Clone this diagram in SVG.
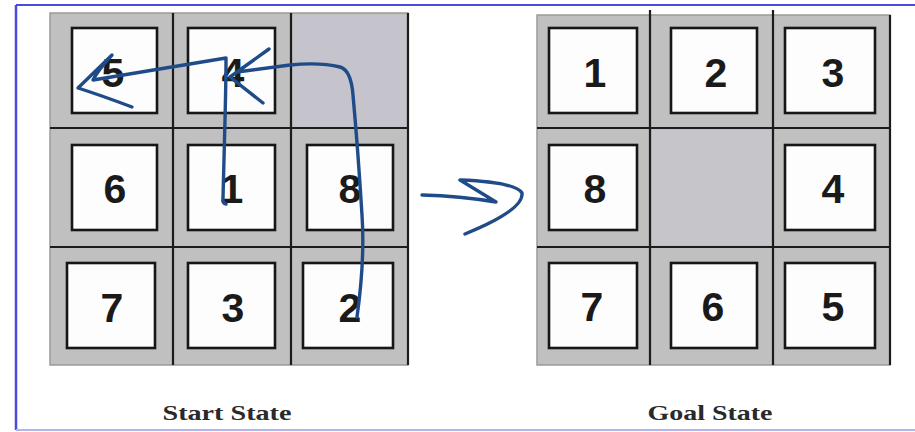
<svg xmlns="http://www.w3.org/2000/svg" width="915" height="432" viewBox="0 0 915 432">
  <style>
    .board { fill: #c0c0c0; stroke: #9a9a9a; stroke-width: 1.5; }
    .edge { stroke: #1c1c1c; stroke-width: 2.2; fill: none; }
    .tile { fill: #fdfdfd; stroke: #161616; stroke-width: 2.6; }
    .num { font-family: "Liberation Sans", Arial, sans-serif; font-weight: bold; font-size: 41px; fill: #1a1a1a; text-anchor: middle; }
    .cap { font-family: "Liberation Serif", "Times New Roman", serif; font-weight: bold; font-size: 21px; fill: #2a2a2a; text-anchor: middle; }
    .ink { fill: none; stroke: #1f4c89; stroke-width: 3.4; stroke-linecap: round; stroke-linejoin: round; }
  </style>

  <!-- page frame -->
  <rect x="0" y="0" width="915" height="432" fill="#ffffff"/>
  <line x1="16" y1="5" x2="915" y2="5" stroke="#4a4ae0" stroke-width="2"/>
  <line x1="16" y1="5" x2="16" y2="430" stroke="#4a4ae0" stroke-width="2.5"/>
  <line x1="16" y1="430" x2="915" y2="430" stroke="#b4b4ec" stroke-width="2"/>

  <!-- start board -->
  <g id="start-board">
    <rect class="board" x="50" y="13" width="358" height="352"/>
    <rect x="293" y="15" width="113" height="112" fill="#c5c4cd"/>
    <path class="edge" d="M173 13V365M291 13V365M50 128H408M50 247H408M408 13V365"/>
  </g>
  <g id="s-5"><rect class="tile" x="72" y="28" width="85" height="85"/><text class="num" x="113" y="87">5</text></g>
  <g id="s-4"><rect class="tile" x="188" y="28" width="87" height="85"/><text class="num" x="233" y="87">4</text></g>
  <g id="s-6"><rect class="tile" x="72" y="145" width="85" height="85"/><text class="num" x="115" y="203">6</text></g>
  <g id="s-1"><rect class="tile" x="188" y="145" width="87" height="85"/><text class="num" x="232" y="203">1</text></g>
  <g id="s-8"><rect class="tile" x="307" y="145" width="86" height="85"/><text class="num" x="350" y="203">8</text></g>
  <g id="s-7"><rect class="tile" x="67" y="263" width="88" height="85"/><text class="num" x="112" y="322">7</text></g>
  <g id="s-3"><rect class="tile" x="188" y="263" width="87" height="85"/><text class="num" x="233" y="322">3</text></g>
  <g id="s-2"><rect class="tile" x="303" y="263" width="90" height="85"/><text class="num" x="350" y="322">2</text></g>
  <text id="start-label" class="cap" x="227" y="420" textLength="129" lengthAdjust="spacingAndGlyphs">Start State</text>

  <!-- goal board -->
  <g id="goal-board">
    <rect class="board" x="537" y="15" width="353" height="350"/>
    <rect x="652" y="130" width="119" height="115" fill="#c6c6ca"/>
    <path class="edge" d="M650 10V365M773 10V365M537 128H890M537 247H890M890 15V365"/>
  </g>
  <g id="g-1"><rect class="tile" x="549" y="28" width="88" height="85"/><text class="num" x="595" y="87">1</text></g>
  <g id="g-2"><rect class="tile" x="671" y="28" width="86" height="85"/><text class="num" x="716" y="87">2</text></g>
  <g id="g-3"><rect class="tile" x="785" y="28" width="90" height="85"/><text class="num" x="833" y="87">3</text></g>
  <g id="g-8"><rect class="tile" x="549" y="145" width="88" height="85"/><text class="num" x="595" y="203">8</text></g>
  <g id="g-4"><rect class="tile" x="785" y="145" width="90" height="85"/><text class="num" x="833" y="203">4</text></g>
  <g id="g-7"><rect class="tile" x="549" y="263" width="88" height="85"/><text class="num" x="592" y="321">7</text></g>
  <g id="g-6"><rect class="tile" x="671" y="263" width="86" height="85"/><text class="num" x="713" y="321">6</text></g>
  <g id="g-5"><rect class="tile" x="785" y="263" width="90" height="85"/><text class="num" x="833" y="321">5</text></g>
  <text id="goal-label" class="cap" x="710" y="420" textLength="125" lengthAdjust="spacingAndGlyphs">Goal State</text>

  <!-- hand-drawn moves -->
  <g id="connectors">
    <!-- 1 up, then 5-ward sweep -->
    <path class="ink" d="M223 198Q222 203 226 204M223 198L225 120Q226 80 226 58L93 80Q98 70 112 55L78 88Q100 95 132 107"/>
    <!-- 2 up and over to the 4 -->
    <path class="ink" d="M357 317Q365 260 362 215Q358 150 353 95Q351 70 340 67Q320 62 290 65L237 72L269 49L230 77L263 103"/>
    <!-- start to goal -->
    <path class="ink" d="M422 195Q460 196 496 202L460 180Q515 182 522 193Q524 210 465 234"/>
  </g>
</svg>
